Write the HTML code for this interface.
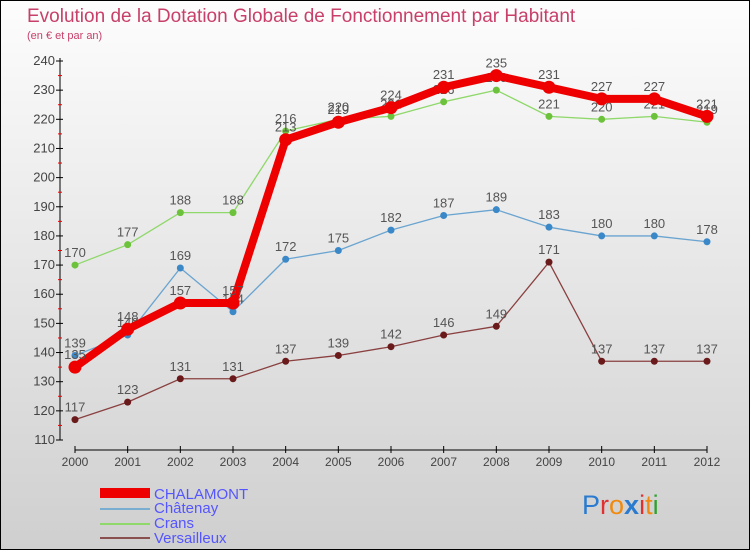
<!DOCTYPE html>
<html><head><meta charset="utf-8"><style>
html,body{margin:0;padding:0;width:750px;height:550px;overflow:hidden}
svg{display:block;font-family:"Liberation Sans",sans-serif}
</style></head><body>
<svg id="chart" width="750" height="550">
<defs><linearGradient id="bg" x1="0" y1="0" x2="0" y2="1"><stop offset="0" stop-color="#fdfdfd"/><stop offset="1" stop-color="#cfcfcf"/></linearGradient></defs>
<rect x="0.5" y="0.5" width="749" height="549" fill="url(#bg)" stroke="#000"/>
<text x="27" y="22" font-size="19" fill="#c8406a">Evolution de la Dotation Globale de Fonctionnement par Habitant</text>
<text x="27" y="39" font-size="11" fill="#c8406a">(en € et par an)</text>
<g id="axes"></g><g id="series"></g>
<g>
<rect x="100" y="488" width="50" height="10" fill="#e00"/>
<text x="154" y="499" font-size="15" fill="#5555ff">CHALAMONT</text>
<line x1="100" y1="509" x2="150" y2="509" stroke="#7aaed0" stroke-width="2"/>
<text x="154" y="513" font-size="15" fill="#5555ff">Châtenay</text>
<line x1="100" y1="524" x2="150" y2="524" stroke="#8fd86a" stroke-width="2"/>
<text x="154" y="528" font-size="15" fill="#5555ff">Crans</text>
<line x1="100" y1="538" x2="150" y2="538" stroke="#8a5050" stroke-width="2"/>
<text x="154" y="543" font-size="15" fill="#5555ff">Versailleux</text>
</g>
<text x="582" y="514" font-size="27"><tspan fill="#2a7bd0">P</tspan><tspan fill="#e03030">r</tspan><tspan fill="#f08a10">o</tspan><tspan fill="#2a7bd0" font-weight="bold">x</tspan><tspan fill="#e03030">i</tspan><tspan fill="#f08a10">t</tspan><tspan fill="#30a030">i</tspan></text>
</svg>
<script>
const years=[2000,2001,2002,2003,2004,2005,2006,2007,2008,2009,2010,2011,2012];
const yTicks=[110,120,130,140,150,160,170,180,190,200,210,220,230,240];
const chalamont=[135,148,157,157,213,219,224,231,235,231,227,227,221];
const chatenay=[139,146,169,154,172,175,182,187,189,183,180,180,178];
const crans=[170,177,188,188,216,220,221,226,230,221,220,221,219];
const versailleux=[117,123,131,131,137,139,142,146,149,171,137,137,137];
const NS="http://www.w3.org/2000/svg";
const X=i=>75+i*(707-75)/(years.length-1);
const Y=v=>440-(v-110)*(440-61)/130;
function mk(tag,attrs,parent,text){const e=document.createElementNS(NS,tag);for(const k in attrs)e.setAttribute(k,attrs[k]);if(text!==undefined)e.textContent=text;parent.appendChild(e);return e;}
const axes=document.getElementById('axes');
let e=mk('line',{x1:60,y1:58,x2:60,y2:440,stroke:'#000'},axes);


yTicks.forEach(t=>{
  mk('line',{x1:56,y1:Y(t),x2:63,y2:Y(t),stroke:'#000'},axes);
  if(t<240) mk('line',{x1:58,y1:Y(t+5),x2:62,y2:Y(t+5),stroke:'#e00'},axes);
  const l=mk('text',{x:55,y:Y(t)+4,'font-size':13,fill:'#444','text-anchor':'end'},axes,t);
  
  
});
e=mk('line',{x1:75,y1:450,x2:707,y2:450,stroke:'#000'},axes);


years.forEach((y,i)=>{
  mk('line',{x1:X(i),y1:446,x2:X(i),y2:453,stroke:'#000'},axes);
  const l=mk('text',{x:X(i),y:466,'font-size':12,fill:'#444','text-anchor':'middle'},axes,y);
  
  
});
const sg=document.getElementById('series');
function draw(vals,color,dot,lw,r,name){
  const g=mk('g',{},sg);
  
  
  mk('polyline',{points:vals.map((v,i)=>X(i)+','+Y(v)).join(' '),fill:'none',stroke:color,'stroke-width':lw,'stroke-linejoin':'round'},g);
  vals.forEach((v,i)=>{
    const c=mk('circle',{cx:X(i),cy:Y(v),r:r,fill:dot},g);
    
    
    const t=mk('text',{x:X(i),y:Y(v)-8,'font-size':13,fill:'#555','text-anchor':'middle'},g,v);
    
    
  });
}
draw(versailleux,'#8a4040','#6a1a1a',1.3,3.5,'versailleux');
draw(crans,'#8fd86a','#6cc23a',1.3,3.5,'crans');
draw(chatenay,'#6aa4d0','#3a88c8',1.3,3.5,'chatenay');
draw(chalamont,'#ee0000','#ee0000',8,6.5,'chalamont');
</script>
</body></html>
